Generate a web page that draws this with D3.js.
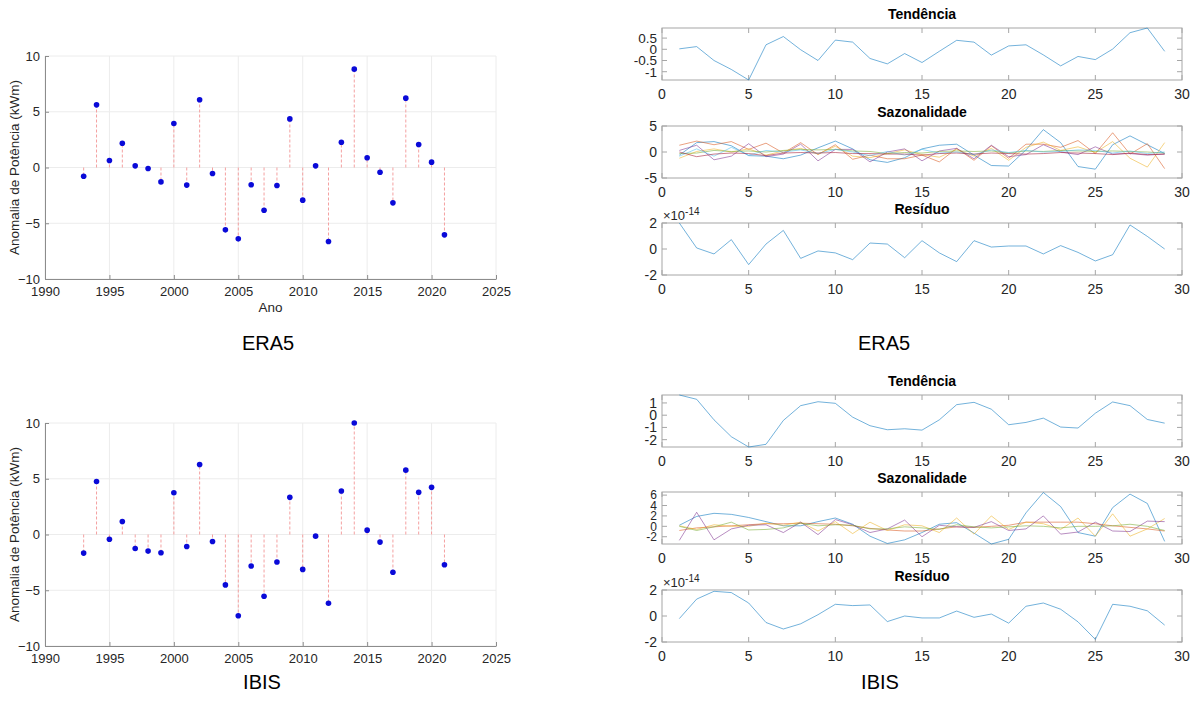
<!DOCTYPE html>
<html>
<head>
<meta charset="utf-8">
<script src="https://cdn.jsdelivr.net/npm/d3@7"></script>
<style>
  body { margin: 0; background: #fff; }
  svg { font-family: "Liberation Sans", Arial, sans-serif; }
</style>
</head>
<body>
<svg id="fig" width="1197" height="722"></svg>
<script>
// ---------------- data ----------------
var anos = d3.range(1993, 2022);
var idx = d3.range(1, 30);

var anomEra5 = [-0.78, 5.62, 0.63, 2.18, 0.15, -0.09, -1.29, 3.95, -1.58, 6.07, -0.54, -5.59, -6.40, -1.55, -3.83,
  -1.61, 4.36, -2.93, 0.15, -6.64, 2.27, 8.82, 0.87, -0.42, -3.17, 6.22, 2.06, 0.48, -6.04];
var anomIbis = [-1.67, 4.76, -0.42, 1.16, -1.25, -1.49, -1.64, 3.75, -1.07, 6.28, -0.63, -4.52, -7.29, -2.83, -5.54,
  -2.47, 3.33, -3.13, -0.15, -6.16, 3.90, 10.0, 0.39, -0.68, -3.39, 5.77, 3.78, 4.23, -2.71];

var tendEra5 = [0.02, 0.12, -0.5, -0.9, -1.37, 0.2, 0.57, -0.02, -0.5, 0.41, 0.32, -0.41, -0.65, -0.19, -0.59,
  -0.09, 0.40, 0.32, -0.26, 0.15, 0.2, -0.25, -0.74, -0.32, -0.46, 0.01, 0.74, 0.95, -0.09];
var tendIbis = [1.65, 1.3, -0.38, -1.76, -2.6, -2.38, -0.43, 0.78, 1.1, 0.97, -0.16, -0.86, -1.19, -1.11, -1.22,
  -0.38, 0.86, 1.05, 0.49, -0.78, -0.59, -0.24, -0.97, -1.05, 0.16, 1.08, 0.78, -0.35, -0.65];

// sazonalidade (uma serie por componente)
var sazEra5 = [
  [-0.6, 1.8, 2.0, 1.2, -0.7, -0.8, -1.3, -0.6, 0.8, 2.1, 0.6, -1.5, -2.0, -1.1, 0.6, 1.3, 1.5, -0.6, -2.6, -2.7, 0.4, 4.3, 1.8, -2.8, -3.3, 1.4, 3.1, 1.4, -0.3],
  [1.3, 2.1, 1.4, 2.0, 0.5, 1.7, -0.2, 1.8, -0.5, 1.4, -1.4, -0.6, -1.3, -1.3, -0.6, -1.9, 0.7, -1.6, 1.2, -1.2, 1.5, 1.5, 0.9, 2.2, -0.3, 3.7, -0.4, 1.6, -3.2],
  [-1.2, 0.1, 0.6, 0.0, 0.6, -0.6, 0.2, 0.7, -0.4, 1.1, -0.8, -1.1, -0.3, 0.4, -0.5, -1.0, 0.5, -0.8, 0.7, -1.6, 0.9, 1.9, 0.3, 1.0, -0.1, 2.0, -1.2, -2.9, 1.8],
  [0.3, 1.3, -1.5, -0.8, 1.6, -0.9, -0.4, 1.5, -1.7, 0.5, 0.5, -1.9, 0.0, 0.6, -1.7, 0.2, 0.7, -1.3, 1.3, -0.9, -0.5, 1.4, 0.0, -0.5, 1.0, -0.4, -0.3, -0.6, -0.4],
  [-0.3, -0.2, 0.3, 0.1, 0.2, 0.0, 0.3, 0.5, 0.4, 0.5, 0.2, 0.1, -0.3, -0.1, -0.2, 0.1, 0.2, 0.1, 0.2, -0.2, 0.2, 0.1, 0.3, 0.2, 0.1, 0.2, 0.1, 0.0, -0.2],
  [-0.8, 0.6, -0.8, 0.9, -0.6, 0.3, 0.0, 0.4, -0.3, 0.5, 0.0, -0.7, 0.1, -0.6, 0.5, -0.2, 0.0, -0.5, 0.4, -0.1, 0.3, 0.0, 0.1, 0.4, 0.3, -0.2, 0.2, -0.3, 0.0],
  [0.0, -0.9, -0.4, -0.2, -0.3, -0.7, -0.2, -0.1, -0.2, -0.1, -0.3, -0.3, -0.4, -0.4, -0.6, -0.3, -0.2, -0.4, -0.2, -0.3, -0.4, -0.3, -0.1, -0.2, -0.3, -0.5, -0.2, -0.5, -0.4]
];
var sazIbis = [
  [0.2, 1.9, 2.5, 2.3, 1.7, 0.9, 0.1, 0.1, 0.9, 1.6, 0.4, -1.9, -3.3, -2.6, -1.2, 0.4, 0.7, -1.3, -3.4, -2.5, 2.6, 6.5, 3.8, -1.2, -1.9, 3.6, 6.2, 4.4, -2.9],
  [-0.8, -0.3, -0.1, 0.1, 0.3, 0.5, 0.5, 0.6, 0.5, 0.4, 0.1, -0.4, -0.7, -0.9, -0.9, -0.5, -0.1, -0.2, 0.0, 0.2, 0.8, 0.8, 0.8, 0.8, 0.5, 0.1, -0.2, -0.5, -0.9],
  [0.1, -0.6, 0.3, 0.0, 0.0, 0.6, 0.2, 0.8, -0.9, 0.9, -1.4, 0.8, -0.8, 0.3, 0.1, -1.2, 1.6, -1.5, 2.0, -0.6, 0.8, 0.5, -0.6, 1.6, -1.9, 2.4, -1.9, -0.5, 1.5],
  [-2.7, 2.7, -2.6, -0.5, 0.2, 0.3, -1.2, 0.8, -1.6, 1.3, 0.3, -1.2, -0.5, 1.2, -2.0, 0.2, -0.1, -0.2, 0.9, -0.8, -0.5, 2.0, -1.5, -1.1, 0.8, -0.9, -1.0, 1.0, 0.9],
  [0.0, -0.8, -0.1, 0.8, -0.7, -0.6, -0.3, 0.6, 0.1, 0.3, 0.2, -0.5, -0.5, -0.1, -0.3, -0.6, 0.3, -0.1, -0.3, -0.1, 0.1, 0.0, -0.3, 0.0, 0.0, 0.1, 0.4, 0.0, -0.8]
];

// residuo em unidades de 1e-14
var resEra5 = [2.0, 0.08, -0.38, 0.72, -1.2, 0.38, 1.43, -0.72, -0.15, -0.3, -0.82, 0.46, 0.38, -0.67, 0.64,
  -0.3, -0.97, 0.64, 0.15, 0.23, 0.23, -0.38, 0.26, -0.26, -0.92, -0.44, 1.85, 0.97, 0.0];
var resIbis = [-0.2, 1.3, 1.9, 1.8, 1.0, -0.5, -1.0, -0.6, 0.1, 0.9, 0.8, 0.85, -0.43, 0.0, -0.15,
  -0.15, 0.38, -0.1, 0.15, -0.55, 0.75, 1.0, 0.52, -0.45, -1.8, 0.9, 0.75, 0.4, -0.7];

var matlabCores = ["#0072BD", "#D95319", "#EDB120", "#7E2F8E", "#77AC30", "#4DBEEE", "#A2142F"];

var svg = d3.select("#fig");

/*
************************ stem plot (anomalia) ************************
*/
function stemPlot(top, bottom, valores, comAno) {
  var x = d3.scaleLinear().domain([1990, 2025]).range([45, 496]);
  var y = d3.scaleLinear().domain([-10, 10]).range([bottom, top]);
  var g = svg.append("g");

  // grid
  g.selectAll(".gx").data(x.ticks(7)).enter().append("line")
    .attr("x1", d => x(d)).attr("x2", d => x(d)).attr("y1", top).attr("y2", bottom)
    .attr("stroke", "#ececec");
  g.selectAll(".gy").data(y.ticks(4)).enter().append("line")
    .attr("x1", 45).attr("x2", 496).attr("y1", d => y(d)).attr("y2", d => y(d))
    .attr("stroke", "#ececec");

  var xa = g.append("g").attr("transform", "translate(0," + bottom + ")")
    .call(d3.axisBottom(x).ticks(7).tickFormat(d3.format("d")).tickSizeInner(-4).tickSizeOuter(0).tickPadding(8));
  var ya = g.append("g").attr("transform", "translate(45,0)")
    .call(d3.axisLeft(y).ticks(4).tickSizeInner(-4).tickSizeOuter(0).tickPadding(5));
  [xa, ya].forEach(function (a) {
    a.selectAll("path, line").attr("stroke", "#8c8c8c");
    a.selectAll("text").attr("fill", "#262626").style("font-size", "13px");
  });

  // hastes
  g.selectAll(".stem").data(valores).enter().append("line")
    .attr("x1", (d, i) => x(anos[i])).attr("x2", (d, i) => x(anos[i]))
    .attr("y1", y(0)).attr("y2", d => y(d))
    .attr("stroke", "#f4a0a0").attr("stroke-width", 1).attr("stroke-dasharray", "3,2");
  g.selectAll(".pt").data(valores).enter().append("circle")
    .attr("cx", (d, i) => x(anos[i])).attr("cy", d => y(d)).attr("r", 2.8)
    .attr("fill", "#0a0ad8");

  g.append("text").attr("transform", "translate(19," + ((top + bottom) / 2) + ") rotate(-90)")
    .attr("text-anchor", "middle").style("font-size", "13.5px").attr("fill", "#262626")
    .text("Anomalia de Potência (kWm)");
  if (comAno) {
    g.append("text").attr("x", (45 + 496) / 2).attr("y", bottom + 33).attr("text-anchor", "middle")
      .style("font-size", "13.5px").attr("fill", "#262626").text("Ano");
  }
}

/*
************************ painel de decomposicao ************************
*/
function painel(top, titulo, series, yDom, yTicks, expo, fsY) {
  var bottom = top + 52;
  var x = d3.scaleLinear().domain([0, 30]).range([662, 1182]);
  var y = d3.scaleLinear().domain(yDom).range([bottom, top]);
  var g = svg.append("g");

  g.append("rect").attr("x", 662).attr("y", top).attr("width", 520).attr("height", 52)
    .attr("fill", "none").attr("stroke", "#a6a6a6");

  var xt = d3.range(0, 31, 5);
  g.selectAll(".tb").data(xt).enter().append("line")
    .attr("x1", d => x(d)).attr("x2", d => x(d)).attr("y1", bottom).attr("y2", bottom - 5).attr("stroke", "#a6a6a6");
  g.selectAll(".tt").data(xt).enter().append("line")
    .attr("x1", d => x(d)).attr("x2", d => x(d)).attr("y1", top).attr("y2", top + 5).attr("stroke", "#a6a6a6");
  g.selectAll(".yl").data(yTicks).enter().append("line")
    .attr("x1", 662).attr("x2", 667).attr("y1", d => y(d)).attr("y2", d => y(d)).attr("stroke", "#a6a6a6");
  g.selectAll(".yr").data(yTicks).enter().append("line")
    .attr("x1", 1177).attr("x2", 1182).attr("y1", d => y(d)).attr("y2", d => y(d)).attr("stroke", "#a6a6a6");

  g.selectAll(".xl").data(xt).enter().append("text")
    .attr("x", d => x(d)).attr("y", bottom + 19).attr("text-anchor", "middle")
    .style("font-size", "14px").attr("fill", "#262626").text(d => d);
  g.selectAll(".ylab").data(yTicks).enter().append("text")
    .attr("x", 657).attr("y", d => y(d) + (fsY || 14) * 0.36).attr("text-anchor", "end")
    .style("font-size", (fsY || 14) + "px").attr("fill", "#262626").text(d => String(d));

  var line = d3.line().x((d, i) => x(idx[i])).y(d => y(d));
  g.selectAll(".serie").data(series).enter().append("path")
    .attr("d", d => line(d)).attr("fill", "none")
    .attr("stroke", (d, i) => matlabCores[i % matlabCores.length])
    .attr("stroke-opacity", 0.55).attr("stroke-width", 1);

  g.append("text").attr("x", 922).attr("y", top - 9).attr("text-anchor", "middle")
    .style("font-size", "14px").style("font-weight", "bold").attr("fill", "#000").text(titulo);

  if (expo) {
    var t = g.append("text").attr("x", 663).attr("y", top - 3).style("font-size", "13px").attr("fill", "#262626");
    t.append("tspan").text("×10");
    t.append("tspan").attr("dy", -5).style("font-size", "10px").text(expo);
  }
}

stemPlot(56, 279, anomEra5, true);
stemPlot(423, 646, anomIbis, false);

painel(28, "Tendência", [tendEra5], d3.extent(tendEra5), [-1, -0.5, 0, 0.5], null, 13.5);
painel(126, "Sazonalidade", sazEra5, [-5, 5], [-5, 0, 5], null);
painel(223, "Resíduo", [resEra5], [-2, 2], [-2, 0, 2], "-14");

painel(395, "Tendência", [tendIbis], d3.extent(tendIbis), [-2, -1, 0, 1], null);
painel(492, "Sazonalidade", sazIbis, [-3.4, 6.6], [-2, 0, 2, 4, 6], null, 12);
painel(590, "Resíduo", [resIbis], [-2, 2], [-2, 0, 2], "-14");

// legendas das figuras
var legendas = [
  { t: "ERA5", x: 268, y: 350 }, { t: "ERA5", x: 884, y: 350 },
  { t: "IBIS", x: 262, y: 689 }, { t: "IBIS", x: 880, y: 689 }
];
svg.selectAll(".leg").data(legendas).enter().append("text")
  .attr("x", d => d.x).attr("y", d => d.y).attr("text-anchor", "middle")
  .style("font-size", "20px").attr("fill", "#000").text(d => d.t);
</script>
</body>
</html>
